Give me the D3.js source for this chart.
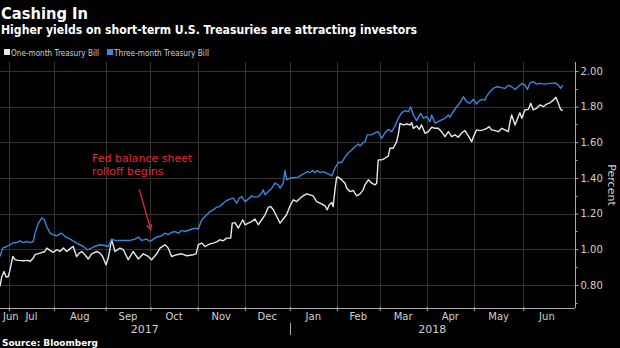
<!DOCTYPE html>
<html><head><meta charset="utf-8">
<script src="https://cdn.jsdelivr.net/npm/d3@7"></script>
<style>body{margin:0;background:#000;} svg{display:block;}</style>
</head><body><svg id="c" width="620" height="348"></svg>
<script>
// ---------- data ----------
const title = "Cashing In";
const subtitle = "Higher yields on short-term U.S. Treasuries are attracting investors";
const seriesNames = ["One-month Treasury Bill", "Three-month Treasury Bill"];
const sourceText = "Source: Bloomberg";
const yAxisTitle = "Percent";
const annotationLines = ["Fed balance sheet", "rolloff begins"];

// months shown on the trading-day axis and their number of trading days in the window
const monthLabels = ["Jun","Jul","Aug","Sep","Oct","Nov","Dec","Jan","Feb","Mar","Apr","May","Jun"];
const monthTradingDays = [4,20,23,20,21,21,20,21,19,21,21,22,21];
const yearLabels = ["2017","2018"];
const yearStartMonth = [0, 7];   // index into monthLabels where each year begins
const yTickValues = [0.8,1.0,1.2,1.4,1.6,1.8,2.0];
const yMinorValues = [0.7,0.9,1.1,1.3,1.5,1.7,1.9];

// [trading day, yield %]
const oneMonth = [[0,0.791],[0.8,0.847],[1.8,0.875],[2.7,0.844],[3.7,0.847],[4.5,0.885],[5.7,0.959],[6.7,0.941],[8.1,0.937],[10.4,0.935],[12.6,0.937],[13.4,0.931],[14.8,0.950],[15.6,0.969],[17.8,0.978],[20.0,0.987],[20.8,1.006],[22.3,0.993],[23.7,0.982],[25.2,0.997],[26.7,0.987],[28.2,1.006],[29.7,0.987],[31.5,1.006],[32.6,1.015],[34.1,0.959],[35.3,0.978],[36.4,0.987],[37.8,0.969],[39.3,0.945],[40.8,0.974],[43.1,0.987],[44.5,0.978],[45.7,0.959],[47.2,0.913],[48.2,0.950],[49.7,1.053],[51.2,0.987],[53.4,1.006],[54.9,0.997],[57.1,0.941],[59.3,0.987],[61.6,0.945],[63.8,0.974],[66.0,0.959],[67.5,0.941],[69.8,0.974],[71.2,1.006],[73.5,1.025],[74.9,1.006],[76.4,0.959],[78.7,0.969],[80.9,0.974],[83.1,0.963],[86.1,0.969],[87.3,0.974],[88.3,1.025],[89.8,1.034],[91.3,1.015],[93.5,1.030],[95.0,1.034],[96.5,1.041],[97.9,1.053],[99.4,1.047],[100.9,1.062],[102.7,1.062],[103.4,1.146],[104.6,1.149],[106.1,1.118],[106.9,1.137],[108.1,1.165],[109.1,1.137],[110.5,1.146],[112.1,1.155],[113.5,1.169],[115.0,1.137],[116.5,1.165],[118.0,1.193],[119.5,1.236],[120.5,1.239],[121.7,1.221],[123.2,1.183],[124.7,1.146],[126.1,1.169],[127.6,1.193],[128.7,1.230],[129.4,1.249],[130.6,1.277],[132.1,1.267],[133.6,1.286],[135.0,1.299],[136.5,1.310],[138.0,1.305],[139.4,1.299],[141.0,1.267],[142.5,1.258],[143.9,1.249],[144.7,1.243],[145.7,1.221],[146.6,1.249],[147.7,1.262],[148.3,1.239],[149.3,1.351],[149.9,1.404],[150.6,1.404],[152.1,1.389],[153.6,1.370],[154.4,1.342],[155.8,1.323],[157.3,1.329],[158.0,1.314],[158.8,1.299],[160.3,1.310],[161.7,1.333],[162.5,1.361],[164.0,1.389],[165.5,1.370],[167.0,1.361],[167.7,1.370],[168.4,1.501],[169.9,1.501],[171.4,1.510],[172.9,1.523],[173.6,1.566],[175.1,1.566],[176.6,1.603],[177.3,1.641],[178.1,1.706],[179.6,1.697],[181.1,1.702],[182.5,1.697],[183.3,1.709],[184.0,1.678],[185.5,1.691],[186.7,1.672],[187.7,1.697],[189.2,1.650],[190.7,1.659],[192.2,1.684],[193.7,1.678],[195.1,1.678],[196.6,1.659],[198.1,1.631],[199.6,1.659],[201.1,1.631],[202.6,1.641],[204.0,1.628],[205.6,1.653],[207.0,1.665],[208.5,1.635],[210.0,1.603],[210.7,1.628],[212.2,1.669],[213.7,1.665],[215.2,1.669],[216.7,1.678],[217.8,1.687],[218.9,1.669],[220.4,1.665],[221.9,1.659],[223.4,1.678],[224.8,1.669],[226.3,1.659],[227.1,1.715],[227.8,1.753],[229.3,1.697],[230.7,1.743],[231.5,1.765],[232.3,1.734],[233.7,1.781],[235.2,1.784],[236.3,1.818],[237.4,1.781],[238.9,1.790],[240.4,1.809],[241.9,1.799],[243.4,1.814],[244.9,1.821],[246.3,1.836],[247.5,1.852],[248.6,1.818],[249.6,1.784],[250.5,1.777]];

const threeMonth = [[0,0.959],[1.2,1.006],[3.0,1.015],[4.5,1.025],[5.9,1.037],[7.4,1.037],[8.9,1.047],[10.4,1.037],[11.9,1.043],[13.4,1.037],[14.8,1.043],[15.6,1.090],[17.1,1.146],[18.6,1.174],[19.6,1.169],[20.8,1.127],[22.3,1.090],[23.7,1.081],[25.2,1.075],[26.7,1.086],[27.5,1.090],[28.9,1.071],[31.2,1.056],[34.1,1.034],[37.1,1.015],[38.9,0.997],[40.1,1.001],[41.5,1.012],[44.5,1.025],[47.2,1.019],[48.2,1.015],[49.7,1.056],[51.2,1.049],[53.4,1.049],[54.9,1.049],[57.9,1.049],[60.1,1.056],[61.6,1.068],[63.1,1.049],[65.3,1.056],[66.8,1.043],[68.3,1.056],[69.8,1.068],[72.0,1.075],[73.5,1.090],[74.9,1.081],[76.4,1.094],[77.9,1.099],[79.4,1.090],[80.9,1.105],[82.4,1.099],[84.6,1.109],[86.8,1.118],[88.3,1.113],[89.8,1.165],[91.3,1.183],[93.5,1.211],[95.0,1.221],[96.5,1.236],[97.9,1.239],[99.4,1.258],[100.9,1.273],[102.4,1.281],[103.9,1.286],[105.4,1.258],[106.5,1.286],[107.6,1.295],[109.1,1.267],[110.5,1.281],[112.1,1.299],[113.5,1.292],[115.0,1.295],[116.5,1.314],[117.2,1.333],[118.0,1.305],[119.5,1.323],[121.0,1.342],[122.4,1.370],[123.9,1.361],[124.7,1.342],[126.1,1.370],[126.9,1.441],[127.6,1.389],[129.1,1.398],[130.6,1.401],[132.8,1.404],[134.3,1.417],[135.8,1.426],[136.8,1.435],[138.0,1.429],[139.2,1.441],[140.2,1.429],[141.3,1.441],[142.5,1.429],[143.9,1.435],[145.4,1.426],[146.9,1.417],[147.7,1.411],[149.1,1.454],[150.6,1.486],[152.1,1.486],[153.6,1.516],[155.1,1.541],[156.6,1.556],[158.0,1.575],[159.5,1.590],[160.3,1.579],[161.7,1.597],[162.5,1.603],[163.5,1.641],[165.5,1.641],[167.0,1.653],[168.4,1.659],[169.9,1.622],[171.4,1.653],[172.9,1.672],[174.4,1.659],[175.9,1.691],[177.3,1.734],[178.8,1.765],[180.3,1.777],[181.8,1.771],[182.8,1.799],[184.0,1.753],[185.5,1.721],[187.3,1.762],[188.5,1.734],[190.0,1.743],[191.4,1.715],[192.2,1.753],[193.7,1.706],[195.1,1.715],[196.6,1.725],[198.1,1.734],[199.6,1.753],[200.3,1.740],[201.8,1.771],[203.3,1.799],[204.8,1.821],[206.3,1.855],[207.8,1.827],[209.2,1.818],[210.7,1.840],[212.2,1.814],[212.9,1.827],[214.5,1.840],[215.9,1.836],[216.7,1.859],[218.1,1.883],[219.6,1.902],[221.1,1.911],[222.6,1.908],[224.8,1.902],[226.3,1.920],[227.8,1.911],[229.3,1.896],[230.7,1.911],[232.3,1.930],[233.7,1.920],[234.8,1.896],[236.0,1.933],[237.4,1.939],[238.9,1.926],[240.4,1.930],[242.6,1.926],[244.9,1.930],[247.1,1.933],[248.6,1.920],[249.6,1.902],[250.5,1.920]];

// annotation anchor in data units: arrow from tail to tip, text position
const annotation = {textDay: 41, textValue: 1.49, tail: [62, 1.336], tip: [67.1, 1.109]};

// ---------- drawing ----------
const W = 620, H = 348;
const plotL = 0, plotR = 575, plotT = 62, plotB = 308;
const colWhite = "#e8e8e8", colBlue = "#3a86dc", colGrid = "#333333", colAxis = "#a8a8a8",
      colText = "#d0d0d0", colRed = "#e3283a";
const FONT = "'DejaVu Sans', Verdana, sans-serif";

const svg = d3.select("#c");
svg.append("rect").attr("width", W).attr("height", H).attr("fill", "#000");

const totalDays = 256;
const x = d3.scaleLinear().domain([0, totalDays]).range([plotL, plotR]);
const y = d3.scaleLinear().domain([0.67, 2.05]).range([plotB, plotT]);

// month boundaries from trading-day counts
const monthStarts = [];
let acc = 0;
monthTradingDays.forEach(n => { monthStarts.push(acc); acc += n; });
const monthEnds = monthStarts.map((s, i) => s + monthTradingDays[i]);
const boundaries = monthStarts.slice(1);   // first day of each following month

const g = svg.append("g");

// gridlines
g.append("g").selectAll("line").data(yTickValues).join("line")
  .attr("x1", plotL).attr("x2", plotR)
  .attr("y1", d => Math.round(y(d)) + 0.5).attr("y2", d => Math.round(y(d)) + 0.5)
  .attr("stroke", colGrid).attr("stroke-width", 1);
g.append("g").selectAll("line").data(boundaries.filter(d => d < 240)).join("line")
  .attr("x1", d => Math.round(x(d)) + 0.5).attr("x2", d => Math.round(x(d)) + 0.5)
  .attr("y1", plotT).attr("y2", plotB)
  .attr("stroke", colGrid).attr("stroke-width", 1);

// series lines
const line = d3.line().x(d => x(d[0])).y(d => y(d[1]));
g.append("path").datum(oneMonth).attr("d", line).attr("fill", "none")
  .attr("stroke", colWhite).attr("stroke-width", 1.4).attr("stroke-linejoin", "round");
g.append("path").datum(threeMonth).attr("d", line).attr("fill", "none")
  .attr("stroke", colBlue).attr("stroke-width", 1.4).attr("stroke-linejoin", "round");

// bottom axis
const xAxis = d3.axisBottom(x).tickValues(boundaries).tickSize(3).tickFormat("");
const xa = svg.append("g").attr("transform", `translate(0,${plotB})`).call(xAxis);
xa.select(".domain").attr("stroke", colAxis).attr("d", `M${plotL},0.5H${plotR}`);
xa.selectAll(".tick line").attr("stroke", colAxis).attr("y1", -1);

// month labels
const monthText = svg.append("g").selectAll("text").data(monthLabels).join("text")
  .attr("y", plotB + 12)
  .attr("text-anchor", "middle")
  .attr("font-family", FONT).attr("font-size", 10).attr("fill", colText)
  .text(d => d);
monthText.attr("x", function(d, i) {
  const mid = x((monthStarts[i] + monthEnds[i]) / 2);
  const half = this.getComputedTextLength() / 2;
  return Math.max(mid, plotL + half + 3);
});

// year labels
const yearSpans = yearLabels.map((yl, i) => {
  const s = monthStarts[yearStartMonth[i]];
  const e = i + 1 < yearLabels.length ? monthStarts[yearStartMonth[i + 1]] : totalDays;
  return [Math.max(0, s), Math.min(totalDays, e)];
});
svg.append("g").selectAll("text").data(yearLabels).join("text")
  .attr("x", (d, i) => x((yearSpans[i][0] + yearSpans[i][1]) / 2))
  .attr("y", plotB + 25)
  .attr("text-anchor", "middle")
  .attr("font-family", FONT).attr("font-size", 11).attr("fill", colText)
  .text(d => d);
// year separator
yearStartMonth.slice(1).forEach(mi => {
  const xx = Math.round(x(monthStarts[mi])) + 0.5;
  svg.append("line").attr("x1", xx).attr("x2", xx).attr("y1", plotB + 15).attr("y2", plotB + 27)
    .attr("stroke", colAxis).attr("stroke-width", 1);
});

// right axis
const yAxis = d3.axisRight(y).tickValues(yTickValues).tickSize(3).tickPadding(2)
  .tickFormat(d3.format(".2f"));
const ya = svg.append("g").attr("transform", `translate(${plotR + 0.5},0)`).call(yAxis);
ya.select(".domain").attr("stroke", colAxis).attr("d", `M0,${plotT}V${plotB}`);
ya.selectAll(".tick line").attr("stroke", colAxis);
ya.selectAll(".tick text").attr("fill", colText).attr("font-family", FONT).attr("font-size", 10);
svg.append("g").selectAll("line").data(yMinorValues).join("line")
  .attr("x1", plotR).attr("x2", plotR + 2.5)
  .attr("y1", d => Math.round(y(d)) + 0.5).attr("y2", d => Math.round(y(d)) + 0.5)
  .attr("stroke", colAxis);

// y axis title
svg.append("text")
  .attr("transform", `translate(608,${(plotT + plotB) / 2}) rotate(90)`)
  .attr("text-anchor", "middle")
  .attr("font-family", FONT).attr("font-size", 11).attr("fill", colText)
  .text(yAxisTitle);

// titles
svg.append("text").attr("x", 1).attr("y", 19)
  .attr("font-family", FONT).attr("font-weight", "bold").attr("font-size", 16)
  .attr("fill", "#ffffff").attr("textLength", 87).attr("lengthAdjust", "spacingAndGlyphs")
  .text(title);
svg.append("text").attr("x", 1).attr("y", 34)
  .attr("font-family", FONT).attr("font-weight", "bold").attr("font-size", 12.5)
  .attr("fill", "#ffffff").attr("textLength", 416).attr("lengthAdjust", "spacingAndGlyphs")
  .text(subtitle);

// legend
const legendColors = [colWhite, colBlue];
const legendX = [4, 107];
const legendW = [88, 95];
seriesNames.forEach((nm, i) => {
  svg.append("rect").attr("x", legendX[i]).attr("y", 49).attr("width", 6).attr("height", 6)
    .attr("fill", legendColors[i]);
  svg.append("text").attr("x", legendX[i] + 7).attr("y", 55.5)
    .attr("font-family", FONT).attr("font-size", 9).attr("fill", colText)
    .attr("textLength", legendW[i]).attr("lengthAdjust", "spacingAndGlyphs")
    .text(nm);
});

// source
svg.append("text").attr("x", 2).attr("y", 345.5)
  .attr("font-family", FONT).attr("font-weight", "bold").attr("font-size", 9.5)
  .attr("fill", "#ffffff").attr("textLength", 96).attr("lengthAdjust", "spacingAndGlyphs")
  .text(sourceText);

// annotation
const at = svg.append("text").attr("font-family", FONT).attr("font-size", 11).attr("fill", colRed);
annotationLines.forEach((t, i) => {
  at.append("tspan").attr("x", x(annotation.textDay)).attr("y", y(annotation.textValue) + i * 13).text(t);
});
const ax1 = x(annotation.tail[0]), ay1 = y(annotation.tail[1]);
const ax2 = x(annotation.tip[0]), ay2 = y(annotation.tip[1]);
svg.append("line").attr("x1", ax1).attr("y1", ay1).attr("x2", ax2).attr("y2", ay2)
  .attr("stroke", colRed).attr("stroke-width", 1.2);
const ang = Math.atan2(ay2 - ay1, ax2 - ax1);
const hl = 6, ha = 0.45;
const p1 = [ax2 - hl * Math.cos(ang - ha), ay2 - hl * Math.sin(ang - ha)];
const p2 = [ax2 - hl * Math.cos(ang + ha), ay2 - hl * Math.sin(ang + ha)];
svg.append("path").attr("d", `M${p1[0]},${p1[1]}L${ax2},${ay2}L${p2[0]},${p2[1]}`)
  .attr("fill", "none").attr("stroke", colRed).attr("stroke-width", 1.2);
</script>
</body></html>
